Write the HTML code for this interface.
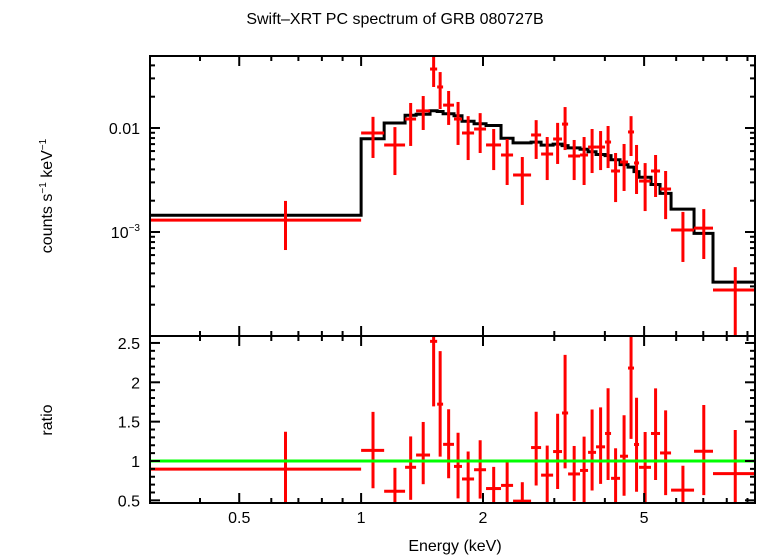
<!DOCTYPE html>
<html><head><meta charset="utf-8">
<style>
body{margin:0;background:#fff;}
svg{display:block;font-family:"Liberation Sans",sans-serif;}
</style></head>
<body>
<svg id="chart" width="758" height="556" viewBox="0 0 758 556">
<text x="395" y="24" text-anchor="middle" font-size="16">Swift–XRT PC spectrum of GRB 080727B</text>
<text transform="translate(52,196) rotate(-90)" text-anchor="middle" font-size="16">counts s<tspan font-size="10" dy="-6">−1</tspan><tspan dy="6"> keV</tspan><tspan font-size="10" dy="-6">−1</tspan></text>
<text transform="translate(52,420) rotate(-90)" text-anchor="middle" font-size="16">ratio</text>
<text x="455" y="551" text-anchor="middle" font-size="16">Energy (keV)</text>
</svg>
<script>
const edges=[0.301,1.000,1.140,1.284,1.367,1.480,1.541,1.594,1.696,1.775,1.901,2.035,2.216,2.373,2.629,2.783,2.980,3.135,3.245,3.473,3.635,3.804,4.004,4.143,4.360,4.563,4.721,4.858,5.200,5.474,5.828,6.642,7.398,9.394];
const flux=[1.30e-3,8.95e-3,6.87e-3,1.22e-2,1.46e-2,3.69e-2,2.48e-2,1.66e-2,1.22e-2,8.95e-3,9.78e-3,6.87e-3,5.50e-3,3.53e-3,8.57e-3,5.62e-3,7.84e-3,1.09e-2,5.38e-3,5.50e-3,6.56e-3,6.56e-3,7.33e-3,3.86e-3,4.71e-3,9.16e-3,4.61e-3,3.09e-3,3.86e-3,2.59e-3,1.045e-3,1.09e-3,2.77e-4];
const fluxHi=[1.99e-3,1.28e-2,1.02e-2,1.74e-2,2.03e-2,7.0e-2,3.45e-2,2.27e-2,1.78e-2,1.30e-2,1.39e-2,9.78e-3,7.84e-3,5.26e-3,1.19e-2,8.19e-3,1.12e-2,1.59e-2,7.67e-3,8.19e-3,9.78e-3,9.35e-3,1.045e-2,5.75e-3,7.02e-3,1.30e-2,6.87e-3,4.60e-3,5.50e-3,3.86e-3,1.56e-3,1.66e-3,4.60e-4];
const fluxLo=[6.71e-4,5.15e-3,3.53e-3,6.72e-3,9.57e-3,2.48e-2,1.52e-2,1.07e-2,6.87e-3,4.92e-3,5.75e-3,3.94e-3,2.83e-3,1.82e-3,5.04e-3,3.16e-3,4.51e-3,6.14e-3,3.16e-3,2.83e-3,3.69e-3,3.94e-3,4.12e-3,1.94e-3,2.48e-3,5.38e-3,2.32e-3,1.59e-3,2.17e-3,1.33e-3,5.15e-4,5.50e-4,5e-5];
const model=[1.45e-3,7.88e-3,1.117e-2,1.326e-2,1.357e-2,1.464e-2,1.44e-2,1.37e-2,1.31e-2,1.16e-2,1.10e-2,1.057e-2,7.97e-3,7.2e-3,7.32e-3,6.85e-3,7.0e-3,6.77e-3,6.44e-3,6.25e-3,5.91e-3,5.56e-3,5.43e-3,4.95e-3,4.44e-3,4.2e-3,3.81e-3,3.36e-3,2.86e-3,2.35e-3,1.66e-3,9.7e-4,3.3e-4];
const xTickLabels=["0.5","1","2","5"];
const xTickVals=[0.5,1,2,5];
const topTickLabels=["0.01","10"];
const ratioTickVals=[0.5,1,1.5,2,2.5];

const NS="http://www.w3.org/2000/svg";
const svg=document.getElementById('chart');
const L=150,R=755,T=56,M=336,B=503;
const xLo=Math.log10(0.301),xHi=Math.log10(9.394);
function X(e){return L+(Math.log10(e)-xLo)/(xHi-xLo)*(R-L);}
function Yt(f){return 128-(Math.log10(f)+2)*104;}
function Yr(r){return 461-(r-1)*78.7;}
function clipT(y){return Math.max(T,Math.min(M,y));}
function clipR(y){return Math.max(M,Math.min(B,y));}
function el(tag,attrs,parent){const e=document.createElementNS(NS,tag);for(const k in attrs)e.setAttribute(k,attrs[k]);(parent||svg).appendChild(e);return e;}

let d="";
for(let i=0;i<model.length;i++){const y=clipT(Yt(model[i]));d+=(i==0?"M":"L")+X(edges[i])+","+y+"L"+X(edges[i+1])+","+y;}
const mp=el('path',{d:d,fill:'none',stroke:'#000','stroke-width':3});



for(let i=0;i<flux.length;i++){
  const g=el('g',{stroke:'#f00','stroke-width':3});
  
  
  const xm=X((edges[i]+edges[i+1])/2);
  const y=Yt(flux[i]);
  if(y>=T&&y<=M) el('line',{x1:X(edges[i]),x2:Math.min(R,X(edges[i+1])),y1:y,y2:y},g);
  el('line',{x1:xm,x2:xm,y1:clipT(Yt(fluxHi[i])),y2:clipT(Yt(fluxLo[i]))},g);
  const r=flux[i]/model[i];
  const g2=el('g',{stroke:'#f00','stroke-width':3});
  
  
  const yr=Yr(r);
  if(yr>=M&&yr<=B) el('line',{x1:X(edges[i]),x2:Math.min(R,X(edges[i+1])),y1:yr,y2:yr},g2);
  el('line',{x1:xm,x2:xm,y1:clipR(Yr(fluxHi[i]/model[i])),y2:clipR(Yr(fluxLo[i]/model[i]))},g2);
}
const ul=el('line',{x1:L,x2:R,y1:Yr(1),y2:Yr(1),stroke:'#0f0','stroke-width':3});



const fr=el('g',{stroke:'#000','stroke-width':2,fill:'none'});


el('rect',{x:L,y:T,width:R-L,height:M-T},fr);
el('rect',{x:L,y:M,width:R-L,height:B-M},fr);

const minors=[0.4,0.5,0.6,0.7,0.8,0.9,1,2,3,4,5,6,7,8,9];
for(const v of minors){
  const x=X(v); const big=xTickVals.indexOf(v)>=0; const len=big?10:5;
  for(const [y0,dir] of [[T,1],[M,-1],[M,1],[B,-1]]) el('line',{x1:x,x2:x,y1:y0,y2:y0+dir*len},fr);
}
xTickVals.forEach((v,i)=>{
  const t=el('text',{x:X(v),y:523,'text-anchor':'middle','font-size':16,fill:'#000',stroke:'none'});
  t.textContent=xTickLabels[i];
  
  
});
for(let p=-4;p<=-2;p++){for(let m=1;m<10;m++){const v=m*Math.pow(10,p);const y=Yt(v);if(y<T||y>M)continue;const len=m==1?10:5;
  el('line',{x1:L,x2:L+len,y1:y,y2:y},fr);el('line',{x1:R,x2:R-len,y1:y,y2:y},fr);}}
const t1=el('text',{x:140,y:Yt(0.01)+6,'text-anchor':'end','font-size':16});t1.textContent=topTickLabels[0];

const t2=el('text',{x:140,y:Yt(0.001)+6,'text-anchor':'end','font-size':16});t2.textContent=topTickLabels[1];
const sp=el('tspan',{'font-size':10,dy:-7},t2);sp.textContent='−3';

for(let v=0.5;v<=2.51;v+=0.1){const y=Yr(v);const big=Math.abs(v*2-Math.round(v*2))<1e-6;const len=big?10:5;
  el('line',{x1:L,x2:L+len,y1:y,y2:y},fr);el('line',{x1:R,x2:R-len,y1:y,y2:y},fr);}
ratioTickVals.forEach(v=>{
  const t=el('text',{x:140,y:Yr(v)+6,'text-anchor':'end','font-size':16});t.textContent=String(v);
  
  
});
</script>
</body></html>
